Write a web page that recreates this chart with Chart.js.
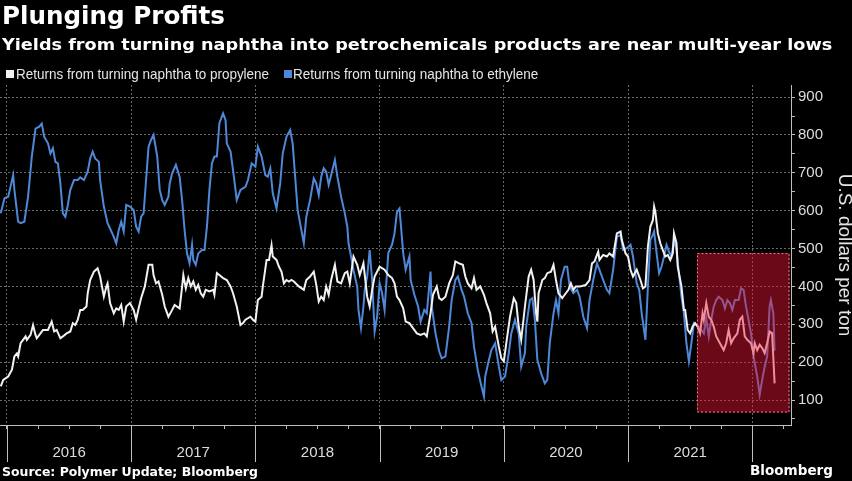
<!DOCTYPE html>
<html>
<head>
<meta charset="utf-8">
<title>Plunging Profits</title>
<script src="https://cdn.jsdelivr.net/npm/chart.js@4.4.1/dist/chart.umd.min.js"></script>
<style>
  html, body { margin: 0; padding: 0; background: #000; }
  #wrap { position: relative; width: 852px; height: 481px; overflow: hidden; background: #000; }
  #chart { position: absolute; left: 0; top: 0; }
  .txt { position: absolute; white-space: nowrap; color: #fff; transform-origin: 0 0; }
  #title { left: 2px; top: 2px; font: bold 24px "DejaVu Sans", sans-serif; }
  #subtitle { left: 2px; top: 35px; font: bold 16px "DejaVu Sans", sans-serif; }
  .legend { top: 65px; font: 15px "Liberation Sans Narrow", "Liberation Sans", sans-serif; color: #e6e6e6; }
  .swatch { position: absolute; top: 70px; width: 8px; height: 8px; }
  #source { left: 2px; top: 464px; font: bold 12.5px "DejaVu Sans", sans-serif; }
  #brand { left: 750px; top: 462px; font: bold 13.5px "DejaVu Sans", sans-serif; }
</style>
</head>
<body>
<div id="wrap">
  <canvas id="chart" width="852" height="481"></canvas>
  <div id="title" class="txt" data-w="223">Plunging Profits</div>
  <div id="subtitle" class="txt" data-w="830">Yields from turning naphtha into petrochemicals products are near multi-year lows</div>
  <div class="swatch" style="left:6px;background:#f2f2f2"></div>
  <div class="txt legend" style="left:16px" data-w="253">Returns from turning naphtha to propylene</div>
  <div class="swatch" style="left:284px;background:#4f88d8"></div>
  <div class="txt legend" style="left:293px" data-w="245">Returns from turning naphtha to ethylene</div>
  <div id="source" class="txt" data-w="256">Source: Polymer Update; Bloomberg</div>
  <div id="brand" class="txt" data-w="83">Bloomberg</div>
</div>
<script>
// Naphtha cracking margins, U.S. dollars per ton.
// x values are decimal years.

const propyleneX = [
  2015.95, 2015.97, 2016.01, 2016.04, 2016.06, 2016.08, 2016.09, 2016.11, 2016.13, 2016.15,
  2016.16, 2016.19, 2016.21, 2016.23, 2016.24, 2016.27, 2016.29, 2016.33, 2016.36, 2016.38,
  2016.40, 2016.43, 2016.45, 2016.48, 2016.51, 2016.53, 2016.55, 2016.57, 2016.59, 2016.61,
  2016.64, 2016.65, 2016.67, 2016.70, 2016.73, 2016.75, 2016.78, 2016.80, 2016.81, 2016.83,
  2016.86, 2016.88, 2016.90, 2016.92, 2016.94, 2016.96, 2016.99,
  2017.02, 2017.04, 2017.06, 2017.08, 2017.11, 2017.14, 2017.17, 2017.18, 2017.20, 2017.22,
  2017.25, 2017.27, 2017.30, 2017.33, 2017.35, 2017.39, 2017.41, 2017.42, 2017.44, 2017.46,
  2017.48, 2017.50, 2017.52, 2017.54, 2017.56, 2017.58, 2017.60, 2017.63, 2017.66, 2017.67,
  2017.69, 2017.71, 2017.74, 2017.77, 2017.80, 2017.82, 2017.85, 2017.88, 2017.90, 2017.92,
  2017.96, 2017.98,
  2018.00, 2018.02, 2018.05, 2018.06, 2018.09, 2018.11, 2018.13, 2018.14, 2018.17, 2018.19,
  2018.21, 2018.23, 2018.25, 2018.27, 2018.29, 2018.31, 2018.35, 2018.39, 2018.41, 2018.44,
  2018.47, 2018.49, 2018.51, 2018.53, 2018.55, 2018.57, 2018.59, 2018.61, 2018.64, 2018.66,
  2018.69, 2018.72, 2018.74, 2018.76, 2018.79, 2018.82, 2018.84, 2018.87, 2018.90, 2018.92,
  2018.94, 2018.96, 2019.00,
  2019.04, 2019.07, 2019.10, 2019.12, 2019.14, 2019.16, 2019.19, 2019.21, 2019.24, 2019.26,
  2019.30, 2019.33, 2019.36, 2019.38, 2019.41, 2019.43, 2019.46, 2019.48, 2019.50, 2019.53,
  2019.56, 2019.59, 2019.61, 2019.64, 2019.67, 2019.69, 2019.71, 2019.74, 2019.76, 2019.78,
  2019.81, 2019.84, 2019.86, 2019.89, 2019.91, 2019.93, 2019.96, 2019.98,
  2020.00, 2020.02, 2020.05, 2020.08, 2020.10, 2020.12, 2020.14, 2020.17, 2020.20, 2020.22,
  2020.24, 2020.26, 2020.27, 2020.28, 2020.31, 2020.33, 2020.35, 2020.38, 2020.40, 2020.42,
  2020.44, 2020.47, 2020.49, 2020.52, 2020.54, 2020.56, 2020.58, 2020.61, 2020.63, 2020.66,
  2020.69, 2020.71, 2020.73, 2020.76, 2020.77, 2020.80, 2020.83, 2020.85, 2020.88, 2020.91,
  2020.94, 2020.95, 2020.98,
  2021.00, 2021.02, 2021.04, 2021.07, 2021.10, 2021.12, 2021.14, 2021.16, 2021.18, 2021.20,
  2021.21, 2021.22, 2021.24, 2021.26, 2021.28, 2021.30, 2021.32, 2021.34, 2021.36, 2021.37,
  2021.39, 2021.40, 2021.43, 2021.45, 2021.46, 2021.48, 2021.50, 2021.52, 2021.54, 2021.56,
  2021.58, 2021.60, 2021.61, 2021.63, 2021.65, 2021.67, 2021.69, 2021.71, 2021.74, 2021.77,
  2021.79, 2021.81, 2021.83, 2021.85, 2021.88, 2021.90, 2021.92, 2021.94, 2021.96, 2021.99,
  2022.01, 2022.02, 2022.04, 2022.06, 2022.08, 2022.10, 2022.12, 2022.14, 2022.16, 2022.18
];
const propyleneY = [
  136, 153, 162, 180, 215, 223, 215, 250, 259, 268,
  259, 272, 298, 272, 263, 276, 285, 285, 307, 281,
  285, 263, 268, 276, 281, 303, 298, 312, 338, 338,
  347, 382, 417, 439, 448, 426, 373, 399, 408, 356,
  329, 342, 338, 351, 307, 347, 356,
  338, 312, 342, 369, 400, 457, 457, 430, 408, 413,
  378, 347, 320, 338, 351, 342, 399, 430, 395, 422,
  400, 413, 391, 404, 382, 373, 391, 387, 391, 378,
  435, 430, 422, 417, 400, 382, 347, 298, 303, 312,
  320, 312,
  307, 364, 373, 400, 470, 470, 509, 479, 470, 452,
  439, 408, 417, 413, 417, 413, 400, 391, 417, 426,
  439, 404, 360, 373, 364, 400, 378, 417, 457, 413,
  408, 435, 439, 408, 479, 457, 430, 461, 373, 347,
  391, 426, 452,
  444, 430, 422, 408, 373, 364, 342, 307, 303, 294,
  276, 272, 276, 268, 329, 378, 400, 369, 364, 373,
  408, 430, 466, 461, 457, 426, 408, 395, 422, 391,
  400, 378, 356, 329, 281, 294, 241, 210,
  202, 250, 320, 369, 356, 294, 259, 347, 426, 444,
  417, 329, 307, 382, 417, 422, 435, 439, 457, 417,
  382, 369, 378, 391, 408, 391, 400, 400, 401, 404,
  417, 461, 466, 492, 470, 483, 479, 487, 479, 540,
  545, 523, 487,
  479, 444, 426, 444, 417, 395, 400, 505, 558, 575,
  611, 597, 540, 514, 496, 479, 483, 470, 487, 540,
  514, 452, 400, 338, 338, 285, 276, 294, 303, 294,
  276, 329, 312, 356, 320, 312, 294, 268, 250, 232,
  250, 285, 250, 263, 276, 312, 320, 268, 259, 250,
  224, 250, 232, 246, 237, 224, 250, 281, 276, 144
];

const ethyleneX = [
  2015.95, 2015.98, 2016.01, 2016.05, 2016.06, 2016.09, 2016.11, 2016.14, 2016.17, 2016.20,
  2016.23, 2016.26, 2016.28, 2016.30, 2016.33, 2016.35, 2016.37, 2016.39, 2016.41, 2016.43,
  2016.45, 2016.47, 2016.49, 2016.51, 2016.54, 2016.57, 2016.59, 2016.62, 2016.65, 2016.67,
  2016.69, 2016.71, 2016.74, 2016.75, 2016.78, 2016.81, 2016.83, 2016.86, 2016.88, 2016.90,
  2016.92, 2016.94, 2016.96, 2016.99,
  2017.02, 2017.04, 2017.06, 2017.08, 2017.10, 2017.12, 2017.14, 2017.16, 2017.18, 2017.21,
  2017.23, 2017.25, 2017.27, 2017.30, 2017.31, 2017.33, 2017.36, 2017.39, 2017.41, 2017.43,
  2017.45, 2017.47, 2017.49, 2017.50, 2017.52, 2017.54, 2017.57, 2017.59, 2017.61, 2017.63,
  2017.65, 2017.67, 2017.69, 2017.71, 2017.74, 2017.76, 2017.77, 2017.80, 2017.82, 2017.84,
  2017.85, 2017.88, 2017.92, 2017.94, 2017.97,
  2018.00, 2018.02, 2018.05, 2018.08, 2018.10, 2018.12, 2018.14, 2018.17, 2018.20, 2018.22,
  2018.25, 2018.28, 2018.30, 2018.32, 2018.34, 2018.37, 2018.39, 2018.41, 2018.44, 2018.47,
  2018.49, 2018.51, 2018.53, 2018.55, 2018.57, 2018.59, 2018.61, 2018.64, 2018.66, 2018.69,
  2018.72, 2018.74, 2018.75, 2018.77, 2018.79, 2018.82, 2018.83, 2018.85, 2018.87, 2018.88,
  2018.90, 2018.92, 2018.94, 2018.96, 2018.98,
  2019.00, 2019.02, 2019.04, 2019.07, 2019.10, 2019.12, 2019.14, 2019.16, 2019.17, 2019.19,
  2019.21, 2019.24, 2019.25, 2019.28, 2019.31, 2019.33, 2019.36, 2019.38, 2019.41, 2019.42,
  2019.45, 2019.48, 2019.50, 2019.53, 2019.56, 2019.58, 2019.61, 2019.63, 2019.66, 2019.68,
  2019.71, 2019.74, 2019.76, 2019.79, 2019.82, 2019.84, 2019.85, 2019.88, 2019.90, 2019.93,
  2019.96, 2019.98,
  2020.01, 2020.04, 2020.06, 2020.09, 2020.12, 2020.14, 2020.17, 2020.18, 2020.21, 2020.23,
  2020.25, 2020.27, 2020.30, 2020.33, 2020.35, 2020.37, 2020.40, 2020.42, 2020.44, 2020.46,
  2020.49, 2020.51, 2020.53, 2020.56, 2020.59, 2020.61, 2020.64, 2020.67, 2020.69, 2020.72,
  2020.75, 2020.77, 2020.80, 2020.83, 2020.85, 2020.88, 2020.91, 2020.94, 2020.96, 2020.99,
  2021.02, 2021.04, 2021.07, 2021.09, 2021.11, 2021.14, 2021.16, 2021.18, 2021.20, 2021.21,
  2021.23, 2021.25, 2021.27, 2021.29, 2021.31, 2021.33, 2021.35, 2021.37, 2021.39, 2021.41,
  2021.43, 2021.45, 2021.47, 2021.49, 2021.51, 2021.53, 2021.55, 2021.57, 2021.59, 2021.61,
  2021.63, 2021.65, 2021.67, 2021.69, 2021.71, 2021.73, 2021.76, 2021.78, 2021.80, 2021.82,
  2021.84, 2021.86, 2021.89, 2021.91, 2021.93, 2021.95, 2021.97, 2021.99,
  2022.01, 2022.04, 2022.06, 2022.08, 2022.10, 2022.12, 2022.14, 2022.15, 2022.17, 2022.18
];
const ethyleneY = [
  593, 633, 637, 694, 655, 571, 567, 571, 637, 743,
  817, 822, 830, 795, 778, 751, 765, 729, 725, 672,
  593, 584, 615, 655, 681, 681, 688, 681, 703, 738,
  756, 738, 729, 681, 611, 567, 553, 531, 514, 549,
  571, 545, 615, 611,
  602, 558, 545, 584, 593, 681, 769, 787, 800, 743,
  655, 628, 615, 637, 672, 699, 721, 690, 628, 549,
  487, 461, 510, 470, 457, 487, 496, 496, 558, 655,
  725, 743, 743, 831, 857, 839, 778, 756, 707, 655,
  628, 655, 663, 681, 725,
  716, 769, 743, 694, 690, 712, 646, 606, 672, 751,
  795, 813, 778, 690, 602, 549, 514, 584, 628, 685,
  672, 641, 690, 712, 703, 668, 694, 734, 690, 637,
  593, 558, 514, 479, 443, 399, 338, 290, 347, 391,
  426, 496, 417, 281, 320,
  408, 382, 338, 488, 510, 540, 597, 606, 567, 488,
  444, 479, 417, 378, 347, 307, 338, 329, 439, 347,
  276, 228, 210, 215, 294, 364, 417, 426, 391, 373,
  329, 303, 241, 180, 136, 109, 162, 206, 232, 250,
  188, 153,
  162, 224, 276, 312, 276, 188, 224, 294, 364, 369,
  312, 206, 171, 144, 153, 250, 329, 364, 329, 417,
  452, 452, 400, 382, 391, 373, 320, 290, 364, 417,
  461, 444, 417, 391, 382, 444, 531, 536, 496, 501,
  510, 479, 408, 391, 329, 259, 400, 523, 536, 545,
  488, 435, 452, 479, 510, 492, 479, 523, 496, 435,
  373, 329, 250, 202, 250, 303, 298, 294, 285, 276,
  316, 268, 312, 347, 364, 373, 364, 342, 364, 356,
  338, 364, 364, 395, 391, 347, 312, 276,
  215, 162, 114, 153, 188, 215, 347, 364, 329, 230
];

// axis setup
const xMin = 2015.944;
const xMax = 2022.312;
const yMin = 34;
const yMax = 932;
const yearEdges = [2016, 2017, 2018, 2019, 2020, 2021, 2022];
const yearLabels = ["2016", "2017", "2018", "2019", "2020", "2021"];
const yLabelStep = 100;

// shaded "near multi-year lows" window
const boxFrom = 2021.555;
const boxTo = 2022.30;
const boxLow = 67;
const boxHigh = 488;

const gridColor = "rgba(140,140,140,0.75)";
const axisColor = "#bdbdbd";

// quarter ticks on x, half-hundred ticks on y
const xTickValues = [];
yearEdges.forEach(y => [0, 0.25, 0.5, 0.75].forEach(q => {
  if (y + q <= xMax) xTickValues.push(y + q);
}));
const yTickValues = [];
for (let v = 50; v <= 900; v += 50) yTickValues.push(v);

const pts = (xs, ys) => xs.map((x, i) => ({ x, y: ys[i] }));

// long year separators under the x axis
const yearMarks = {
  id: "yearMarks",
  afterDraw(chart) {
    const { ctx, chartArea, scales: { x } } = chart;
    ctx.save();
    ctx.strokeStyle = axisColor;
    ctx.lineWidth = 1;
    yearEdges.forEach(v => {
      const px = Math.round(x.getPixelForValue(v)) + 0.5;
      ctx.beginPath();
      ctx.moveTo(px, chartArea.bottom);
      ctx.lineTo(px, chartArea.bottom + 37);
      ctx.stroke();
    });
    ctx.restore();
  },
};

// translucent red highlight drawn over the lines
const highlightBox = {
  id: "highlightBox",
  afterDatasetsDraw(chart) {
    const { ctx, scales: { x, y } } = chart;
    const l = x.getPixelForValue(boxFrom), r = x.getPixelForValue(boxTo);
    const t = y.getPixelForValue(boxHigh), b = y.getPixelForValue(boxLow);
    ctx.save();
    ctx.fillStyle = "rgba(235,20,50,0.45)";
    ctx.fillRect(l, t, r - l, b - t);
    ctx.setLineDash([2, 2]);
    ctx.strokeStyle = "rgba(255,130,150,0.9)";
    ctx.lineWidth = 1;
    ctx.strokeRect(l + 0.5, t + 0.5, r - l - 1, b - t - 1);
    ctx.restore();
  },
};

new Chart(document.getElementById("chart"), {
  type: "line",
  data: {
    datasets: [
      {
        label: "Returns from turning naphtha to propylene",
        data: pts(propyleneX, propyleneY),
        borderColor: "#f2f2f2",
        borderWidth: 2,
        pointRadius: 0,
        tension: 0,
      },
      {
        label: "Returns from turning naphtha to ethylene",
        data: pts(ethyleneX, ethyleneY),
        borderColor: "#4f88d8",
        borderWidth: 2,
        pointRadius: 0,
        tension: 0,
      },
    ],
  },
  options: {
    responsive: false,
    animation: false,
    layout: { padding: { top: 85, left: 0, right: 0, bottom: 0 } },
    plugins: { legend: { display: false }, tooltip: { enabled: false } },
    scales: {
      x: {
        type: "linear",
        min: xMin,
        max: xMax,
        afterBuildTicks: s => { s.ticks = xTickValues.map(value => ({ value })); },
        afterFit: s => { s.height = 56; s.paddingLeft = 0; s.paddingRight = 0; },
        grid: {
          color: c => (c.tick && Number.isInteger(c.tick.value)) ? gridColor : "rgba(0,0,0,0)",
          tickColor: axisColor,
          tickLength: 4,
          lineWidth: 1,
        },
        border: { display: true, color: axisColor, width: 1, dash: [2, 2] },
        ticks: {
          autoSkip: false,
          maxRotation: 0,
          padding: 15,
          color: "#dddddd",
          font: { family: "Liberation Sans", size: 15 },
          callback: v => {
            const i = yearLabels.indexOf(String(Math.floor(v)));
            return (v - Math.floor(v) === 0.5 && i >= 0) ? yearLabels[i] : "";
          },
        },
      },
      y: {
        position: "right",
        min: yMin,
        max: yMax,
        afterBuildTicks: s => { s.ticks = yTickValues.map(value => ({ value })); },
        afterFit: s => { s.width = 61; s.paddingTop = 0; s.paddingBottom = 0; },
        grid: {
          color: c => (c.tick && c.tick.value % yLabelStep === 0) ? gridColor : "rgba(0,0,0,0)",
          tickColor: axisColor,
          tickLength: 4,
          lineWidth: 1,
        },
        border: { display: true, color: axisColor, width: 1, dash: [2, 2] },
        ticks: {
          autoSkip: false,
          padding: 3,
          crossAlign: "near",
          color: "#dddddd",
          font: { family: "Liberation Sans", size: 15 },
          callback: v => (v % yLabelStep === 0 ? String(v) : ""),
        },
        title: {
          display: true,
          text: "U.S. dollars per ton",
          color: "#e6e6e6",
          font: { family: "Liberation Sans", size: 19, lineHeight: 1 },
          padding: { top: -2, bottom: 0 },
        },
      },
    },
  },
  plugins: [yearMarks, highlightBox],
});

// stretch the html texts to the widths they have in the picture
document.querySelectorAll("[data-w]").forEach(el => {
  const w = el.getBoundingClientRect().width;
  if (w > 0) el.style.transform = `scaleX(${(+el.dataset.w / w).toFixed(3)})`;
});
</script>
</body>
</html>
